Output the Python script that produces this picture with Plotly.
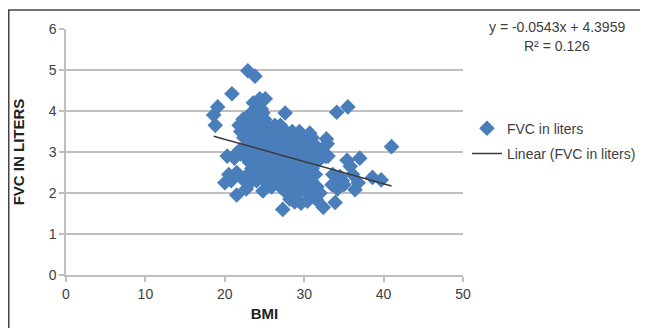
import plotly.graph_objects as go

# ---- data ----
edge_bmi = [18.6, 19.1, 18.8, 20.9, 22.9, 23.8, 27.6, 34.1, 35.5, 41.0, 37.0, 35.4, 35.8, 38.6, 39.7,
            36.4, 36.8, 33.9, 32.4, 27.3, 21.5, 20.0, 20.3, 21.4, 20.5, 21.5, 22.2, 32.8, 32.9, 30.7,
            24.4, 25.1, 24.0, 23.6, 33.0, 34.5, 35.0, 34.2, 33.5, 32.0, 31.5, 30.4, 29.6, 28.8, 28.2,
            27.8, 22.7, 23.2, 23.8, 24.8, 25.5, 26.2, 32.7, 31.9, 33.6, 34.8, 20.8, 21.2, 22.0, 36.1]
edge_fvc = [3.90, 4.10, 3.65, 4.42, 4.98, 4.85, 3.95, 3.97, 4.10, 3.13, 2.85, 2.80, 2.65, 2.38, 2.32,
            2.08, 2.25, 1.77, 1.65, 1.60, 1.95, 2.25, 2.90, 2.95, 2.45, 2.50, 2.35, 3.32, 3.20, 3.46,
            4.30, 4.30, 4.15, 4.20, 2.90, 2.40, 2.20, 2.10, 2.20, 2.00, 1.85, 1.80, 1.75, 1.78, 1.85,
            2.00, 2.10, 2.25, 2.40, 2.05, 2.20, 2.30, 2.89, 2.95, 2.45, 2.30, 2.30, 2.85, 2.95, 2.45]

core_bmi = [22.3, 23.0, 23.6, 24.3, 25.0,
            23.3, 24.1, 24.8,
            23.9, 24.6,
            21.8, 22.5, 23.2, 24.0, 24.7, 25.5, 26.3, 27.0,
            22.0, 22.8, 23.5, 24.4, 25.2, 26.0, 26.8, 27.7, 28.5, 29.4,
            22.4, 23.1, 23.9, 24.7, 25.6, 26.4, 27.3, 28.1, 29.0, 29.9, 31.0,
            22.9, 23.7, 24.5, 25.3, 26.1, 27.0, 27.8, 28.6, 29.5, 30.3, 31.2,
            21.9, 23.3, 24.1, 24.9, 25.8, 26.6, 27.5, 28.3, 29.2, 30.0, 30.9, 31.8,
            22.5, 23.6, 24.4, 25.2, 26.0, 26.9, 27.7, 28.6, 29.4, 30.3, 31.2,
            23.1, 24.0, 24.8, 25.6, 26.4, 27.3, 28.1, 29.0, 29.8, 30.7, 31.6,
            23.4, 24.3, 25.1, 25.9, 26.8, 27.6, 28.4, 29.3, 30.1, 31.0,
            22.9, 24.6, 25.4, 26.2, 27.1, 28.0, 28.8, 29.7, 30.5, 31.4,
            24.0, 25.0, 26.6, 27.4, 28.3, 29.1, 30.0, 30.9,
            25.9, 27.0, 27.9, 28.7, 29.6, 30.6, 31.6,
            28.3, 29.2, 30.3, 31.1]
core_fvc = [3.80, 3.80, 3.80, 3.80, 3.80,
            3.95, 3.95, 3.95,
            4.05, 4.05,
            3.65, 3.65, 3.65, 3.65, 3.65, 3.65, 3.65, 3.65,
            3.50, 3.50, 3.50, 3.50, 3.50, 3.50, 3.50, 3.50, 3.50, 3.50,
            3.35, 3.35, 3.35, 3.35, 3.35, 3.35, 3.35, 3.35, 3.35, 3.35, 3.35,
            3.20, 3.20, 3.20, 3.20, 3.20, 3.20, 3.20, 3.20, 3.20, 3.20, 3.20,
            3.05, 3.05, 3.05, 3.05, 3.05, 3.05, 3.05, 3.05, 3.05, 3.05, 3.05, 3.05,
            2.90, 2.90, 2.90, 2.90, 2.90, 2.90, 2.90, 2.90, 2.90, 2.90, 2.90,
            2.75, 2.75, 2.75, 2.75, 2.75, 2.75, 2.75, 2.75, 2.75, 2.75, 2.75,
            2.60, 2.60, 2.60, 2.60, 2.60, 2.60, 2.60, 2.60, 2.60, 2.60,
            2.45, 2.45, 2.45, 2.45, 2.45, 2.45, 2.45, 2.45, 2.45, 2.45,
            2.30, 2.30, 2.30, 2.30, 2.30, 2.30, 2.30, 2.30,
            2.15, 2.15, 2.15, 2.15, 2.15, 2.15, 2.15,
            2.00, 2.00, 2.00, 2.00]

bmi = edge_bmi + core_bmi
fvc = edge_fvc + core_fvc

slope = -0.0543
intercept = 4.3959
r_squared = 0.126

x_ticks = [0, 10, 20, 30, 40, 50]
y_ticks = [0, 1, 2, 3, 4, 5, 6]

FONT = "Liberation Sans, Arial, sans-serif"
AXIS_GRAY = "#bfbfbf"

trend_x = [min(bmi), max(bmi)]
trend_y = [slope * v + intercept for v in trend_x]

fig = go.Figure()
fig.add_trace(go.Scatter(
    x=bmi, y=fvc, mode="markers", name="FVC in liters", legendgroup="a",
    marker=dict(symbol="diamond", size=12, color="#4a7ebb", line=dict(width=0)),
))
fig.add_trace(go.Scatter(
    x=trend_x, y=trend_y, mode="lines", name="Linear (FVC in liters)", legendgroup="b",
    line=dict(color="#3a3a3a", width=1.5),
))

fig.update_layout(
    width=648, height=328, autosize=False,
    margin=dict(l=58, r=193, t=21, b=61),
    paper_bgcolor="white", plot_bgcolor="white",
    font=dict(family=FONT, size=14, color="#404040"),
    showlegend=True,
    legend=dict(x=1.01, xanchor="left", y=0.66, yanchor="top",
                font=dict(family=FONT, size=14, color="#404040"),
                tracegroupgap=4, bgcolor="rgba(0,0,0,0)"),
    xaxis=dict(range=[0, 50], tickvals=x_ticks, showgrid=False, zeroline=False,
               showline=True, linecolor=AXIS_GRAY, linewidth=1.5,
               ticks="outside", ticklen=5, tickcolor=AXIS_GRAY, tickwidth=1.5,
               title=dict(text="<b>BMI</b>", standoff=8, font=dict(size=15, color="#222222"))),
    yaxis=dict(range=[0, 6], tickvals=y_ticks, showgrid=True, gridcolor=AXIS_GRAY, gridwidth=1.5,
               zeroline=False, showline=True, linecolor=AXIS_GRAY, linewidth=1.5,
               ticks="outside", ticklen=5, tickcolor=AXIS_GRAY, tickwidth=1.5,
               automargin=False,
               title=dict(text="<b>FVC IN LITERS</b>", standoff=20, font=dict(size=15, color="#222222"))),
    shapes=[dict(type="rect", xref="paper", yref="paper",
                 x0=-0.1442, x1=1.6, y0=-0.4, y1=1.077,
                 line=dict(color="#444444", width=1.5))],
    annotations=[
        dict(xref="paper", yref="paper", x=1.236, y=1.008, xanchor="center", yanchor="middle",
             showarrow=False, text=f"y = {slope}x + {intercept}",
             font=dict(family=FONT, size=14, color="#404040")),
        dict(xref="paper", yref="paper", x=1.236, y=0.931, xanchor="center", yanchor="middle",
             showarrow=False, text=f"R² = {r_squared}",
             font=dict(family=FONT, size=14, color="#404040")),
    ],
)

fig.write_html("out.html")
